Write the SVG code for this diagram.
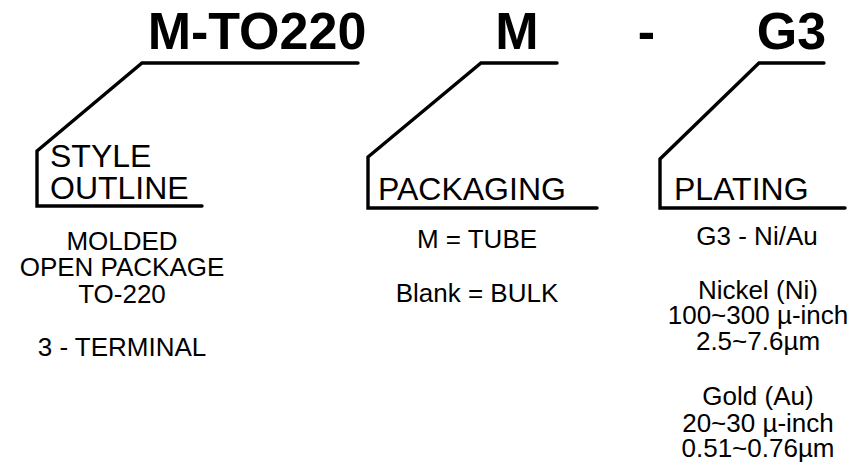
<svg xmlns="http://www.w3.org/2000/svg" width="856" height="469" viewBox="0 0 856 469">
<style>
.title{font-family:"Liberation Sans",Arial,sans-serif;font-weight:bold;font-size:52px;fill:#000;text-anchor:middle}
.label{font-family:"Liberation Sans",Arial,sans-serif;font-size:32px;fill:#000}
.body{font-family:"Liberation Sans",Arial,sans-serif;font-size:26px;fill:#000;text-anchor:middle}
.conn{fill:none;stroke:#000;stroke-width:3.4;stroke-linejoin:miter;stroke-linecap:round}
</style>
<rect width="856" height="469" fill="#fff"/>
<g id="title">
<text class="title" x="257" y="49">M-TO220</text>
<text class="title" x="517" y="49">M</text>
<text class="title" x="646.5" y="49">-</text>
<text class="title" x="791.5" y="49">G3</text>
</g>
<g id="connectors">
<path class="conn" d="M358,63 H142 L37,151 V206 H202"/>
<path class="conn" d="M557,63 H481 L368,157 V208 H597"/>
<path class="conn" d="M824,63 H759 L660,159 V208 H845"/>
</g>
<g id="style-outline">
<text class="label" x="50" y="167">STYLE</text>
<text class="label" x="50" y="199">OUTLINE</text>
<text class="body" x="122" y="250">MOLDED</text>
<text class="body" x="122" y="276">OPEN PACKAGE</text>
<text class="body" x="122" y="303">TO-220</text>
<text class="body" x="122" y="356">3 - TERMINAL</text>
</g>
<g id="packaging">
<text class="label" x="378" y="200">PACKAGING</text>
<text class="body" x="477" y="248">M = TUBE</text>
<text class="body" x="477" y="302">Blank = BULK</text>
</g>
<g id="plating">
<text class="label" x="674" y="200">PLATING</text>
<text class="body" x="757" y="245">G3 - Ni/Au</text>
<text class="body" x="758" y="299">Nickel (Ni)</text>
<text class="body" x="758" y="324">100~300 µ-inch</text>
<text class="body" x="758" y="350">2.5~7.6µm</text>
<text class="body" x="758" y="405">Gold (Au)</text>
<text class="body" x="758" y="432">20~30 µ-inch</text>
<text class="body" x="758" y="457">0.51~0.76µm</text>
</g>
</svg>
